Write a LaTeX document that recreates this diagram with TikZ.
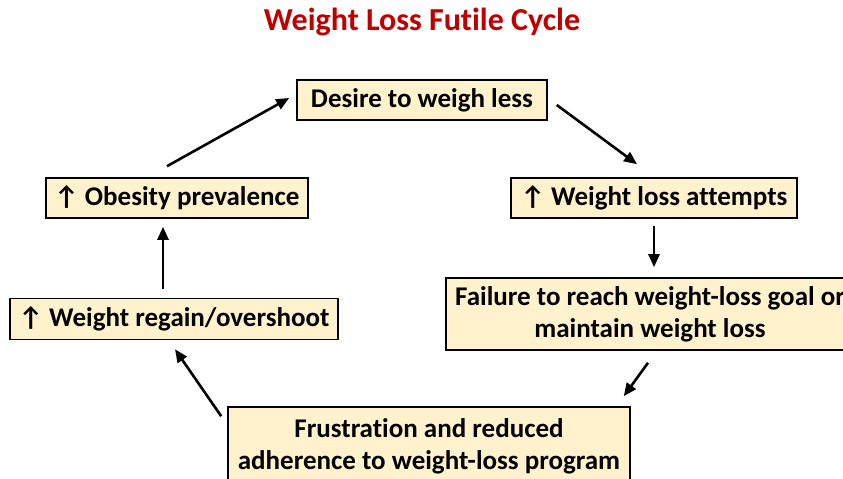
\documentclass[tikz,border=0pt]{standalone}
\usepackage{fontspec}
\setmainfont[Ligatures=NoCommon]{Carlito}
\usetikzlibrary{arrows.meta}
\definecolor{boxfill}{HTML}{FFF2CC}
\definecolor{titlered}{HTML}{C00000}
\newcommand{\up}{\char"2191\ }
\begin{document}
\begin{tikzpicture}[x=1pt,y=-1pt,
		stage/.style={draw=black, line width=1.6pt, fill=boxfill, minimum height=40pt, align=center, inner sep=2pt, font=\bfseries\fontsize{27}{32}\selectfont},
		arr/.style={-{Triangle[length=13pt,width=11pt]}, line width=2.6pt}]
			\useasboundingbox (0,0) rectangle (843,479);
			\node[font=\bfseries\fontsize{32}{36}\selectfont, text=titlered] (title) at (422,22) {Weight Loss Futile Cycle};
			\node[stage, minimum width=250pt] (desire) at (422,100) {Desire to weigh less};
			\node[stage, minimum width=286pt] (attempts) at (654,198) {\up Weight loss attempts};
			\node[stage, minimum width=408pt, minimum height=72pt] (failure) at (650,314) {Failure to reach weight-loss goal or\\maintain weight loss};
			\node[stage, minimum width=402pt, minimum height=78pt] (frustration) at (429,446) {Frustration and reduced\\adherence to weight-loss program};
			\node[stage, minimum width=328pt, minimum height=41pt] (regain) at (174,319) {\up Weight regain/overshoot};
			\node[stage, minimum width=262pt] (obesity) at (177,198) {\up Obesity prevalence};
			% cycle arrows
			\draw[arr] ([xshift=-10pt,yshift=11pt]obesity.north) -- ([xshift=-7pt,yshift=2pt]desire.west);
			\draw[arr] ([xshift=9pt,yshift=-5pt]desire.east) -- ([xshift=-17pt,yshift=13pt]attempts.north);
			\draw[arr] ([yshift=-7pt]attempts.south) -- ([xshift=4pt,yshift=10pt]failure.north);
			\draw[arr] ([xshift=-2pt,yshift=-12pt]failure.south) -- ([xshift=-7pt,yshift=10pt]frustration.north east);
			\draw[arr] ([xshift=-6pt,yshift=-10pt]frustration.north west) -- ([xshift=1pt,yshift=-9pt]regain.south);
			\draw[arr] ([xshift=-11pt,yshift=9pt]regain.north) -- ([xshift=-14pt,yshift=-8pt]obesity.south);
		\end{tikzpicture}
\end{document}
